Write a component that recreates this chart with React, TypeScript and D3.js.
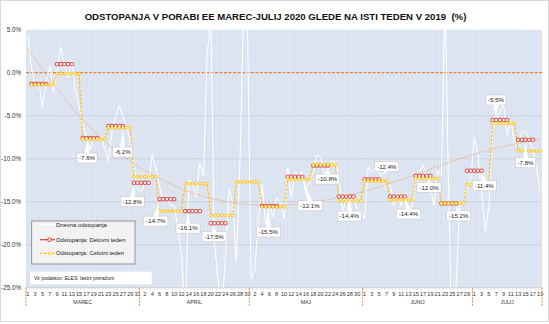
import React from 'react';
import * as d3 from 'd3';

// ---------- DATA ----------
const months = ['MAREC', 'APRIL', 'MAJ', 'JUNIJ', 'JULIJ'];
const monthDays = [31, 30, 31, 30, 19];
const yTicks = [5, 0, -5, -10, -15, -20, -25];

// daily deviation (%), 1 March – 19 July 2020
const daily = [
  4.4,
  0.5, -1.5, -1.0, -4.0, -1.2, 0.8, -2.3,
  0.2, 3.0, 0.9, -0.6, 1.5, -2.0, -3.8,
  -6.2, -7.3, -9.0, -7.6, -7.9, -7.4, -8.8,
  -10.3, -6.8, -5.0, -3.8, -5.1, -6.4, -7.8,
  -11.0, -13.5, -13.8, -12.9, -12.8, -9.5, -11.2,
  -13.2, -15.0, -14.4, -15.4, -15.5, -18.0, -21.3,
  -30.0, -12.5, -13.0, -14.5, -10.5, -12.0, 2.2,
  6.0, -20.0, -24.0, -28.0, -21.5, -13.5, -15.2,
  -22.0, -10.0, 8.0, 6.0, -24.0, -23.0, -17.0,
  -13.0, -17.6, -15.5, -16.8, -14.6, -15.0, -17.0,
  -11.0, -14.5, -11.5, -12.0, -11.5, -13.5, -12.8,
  -11.5, -9.6, -9.8, -11.8, -11.3, -10.2, -10.4,
  -12.0, -16.5, -14.0, -15.5, -14.0, -16.0, -16.3,
  -17.0, -11.0, -11.5, -11.0, -11.5, -12.8, -13.4,
  -13.0, -15.5, -14.0, -15.5, -14.0, -16.0, -15.6,
  -12.5, -11.5, -10.7, -12.0, -13.3, -15.4, -11.4,
  -12.0, 9.0, -14.0, -34.0, -25.0, -15.5, -14.9,
  -13.5, -12.5, -7.5, -9.5, -14.0, -18.5, -15.5,
  -6.5, -5.5, -4.5, -3.7, -7.3, -5.5, -8.3,
  -8.5, -7.0, -6.8, -7.7, -9.0, -11.0, -13.7,
];

// weekly deviation, working week (Mon–Fri)
const weekWork = [-1.3, 1.0, -7.6, -6.2, -12.8, -14.7, -16.1, -17.5, null, -15.5,
  -12.1, -10.8, -14.4, -12.4, -14.4, -12.0, -15.2, -11.4, -5.5, -7.8];
// weekly deviation, full week (Mon–Sun)
const weekFull = [-1.4, -0.1, -7.75, -6.4, -12.1, -16.1, -12.9, -16.6, -12.7, -15.6,
  -12.4, -10.7, -14.9, -12.6, -14.8, -12.3, -15.2, -13.0, -5.9, -9.1];
const showLabel = [false, false, true, true, true, true, true, true, false, true,
  true, true, true, true, true, true, true, true, true, true];

// trend line read every 7 days
const trendStep = 7;
const trend = [2.8, -1.3, -5.0, -8.0, -10.3, -12.1, -13.5, -14.5, -15.1, -15.4, -15.4,
  -15.1, -14.6, -13.9, -13.0, -12.0, -10.9, -9.9, -9.0, -8.3, -7.7];

// ---------- LAYOUT ----------
const W = 549, H = 324;
const P = { l: 26, r: 542, t: 29.7, b: 287.7 };
const firstMonday = 1;
// label offsets (px) relative to mid-week point
const labelOffsets: ([number, number] | null)[] = [null, null, [-3, 20], [7, 26], [-9, 19], [-11, 22],
  [-4.5, 17], [-4, 13.5], null, [-1, 26], [15, 29], [7, 13.5], [3, 19.5], [15, -13], [11, 17.5],
  [6, 11.5], [10, 12.5], [10, 15], [-4, -20], [0, 23]];

const FONT = 'Liberation Sans, Arial, sans-serif';
const RED = '#d63c36';
const YEL = '#ffc000';
const ORANGE = '#e8823f';

export default function App() {
  const N = daily.length;
  const x = d3.scaleLinear().domain([0, N]).range([P.l, P.r]);
  const cx = (t: number) => x(t + 0.5);
  const y = d3.scaleLinear().domain([-25, 5]).range([P.b, P.t]);

  const dailyPath = d3.line<number>().x((_, i) => cx(i)).y(d => y(d))(daily) || '';

  const fullPts: [number, number][] = [];
  weekFull.forEach((v, w) => {
    for (let k = 0; k < 7; k++) fullPts.push([firstMonday + 7 * w + k, v]);
  });
  const fullPath = d3.line<[number, number]>().x(d => cx(d[0])).y(d => y(d[1]))(fullPts) || '';

  const workSegs: [number, number][][] = [];
  weekWork.forEach((v, w) => {
    if (v === null) return;
    const seg: [number, number][] = [];
    for (let k = 0; k < 5; k++) seg.push([firstMonday + 7 * w + k, v]);
    workSegs.push(seg);
  });
  const segLine = d3.line<[number, number]>().x(d => cx(d[0])).y(d => y(d[1]));

  const trendPts: [number, number][] = trend.map((v, i) => [i * trendStep, v]);
  const trendPath = d3.line<[number, number]>().x(d => cx(d[0])).y(d => y(d[1]))
    .curve(d3.curveCatmullRom.alpha(0.5))(trendPts) || '';

  const monthStart: number[] = [];
  let acc = 0;
  monthDays.forEach(d => { monthStart.push(acc); acc += d; });

  const dayLabels: { t: number; label: string }[] = [];
  monthDays.forEach((d, m) => {
    for (let k = 0; k < d; k++) {
      const t = monthStart[m] + k;
      if (t % 2 === 0) dayLabels.push({ t, label: String(k + 1) });
    }
  });

  const fmt = (v: number) => v.toFixed(1) + '%';

  return (
    <svg width={W} height={H} style={{ position: 'absolute', left: 0, top: 0, background: '#fff' }}
      fontFamily={FONT}>
      <defs>
        <clipPath id="plotclip">
          <rect x={P.l} y={P.t} width={P.r - P.l} height={P.b - P.t} />
        </clipPath>
      </defs>
      <rect x={0.5} y={0.5} width={W - 1} height={321} fill="#fff" stroke="#d9d9d9" />
      <text x={275.5} y={20} textAnchor="middle" fontSize={9.6} fontWeight="bold" fill="#111"
        style={{ whiteSpace: 'pre' }}>
        {'ODSTOPANJA V PORABI EE MAREC-JULIJ 2020 GLEDE NA ISTI TEDEN V 2019\u00a0 (%)'}
      </text>

      <rect x={P.l} y={P.t} width={P.r - P.l} height={P.b - P.t} fill="#dbe3f0" />
      {d3.range(1, N).map(t => (
        <line key={'vg' + t} x1={x(t)} x2={x(t)} y1={P.t} y2={P.b} stroke="#eef2f9"
          strokeWidth={0.7} strokeDasharray="1,1" />
      ))}
      {yTicks.filter(v => v !== 0 && v !== -25 && v !== 5).map(v => (
        <line key={'hg' + v} x1={P.l} x2={P.r} y1={y(v)} y2={y(v)} stroke="#c3cad6" strokeWidth={0.7} />
      ))}
      <line x1={P.l} x2={P.r} y1={y(0)} y2={y(0)} stroke={ORANGE} strokeWidth={1.3} strokeDasharray="3,1.5" />

      {yTicks.map(v => (
        <text key={'yl' + v} x={21} y={y(v) + 2.2} textAnchor="end" fontSize={6.3} fill="#333">
          {v.toFixed(1) + '%'}
        </text>
      ))}

      <line x1={P.l} x2={P.r} y1={P.b} y2={P.b} stroke="#bfbfbf" strokeWidth={0.6} />
      {d3.range(0, N + 1).map(t => (
        <line key={'xt' + t} x1={x(t)} x2={x(t)} y1={P.b} y2={P.b + 2} stroke="#bfbfbf" strokeWidth={0.5} />
      ))}
      {dayLabels.map(d => (
        <text key={'dl' + d.t} x={cx(d.t)} y={P.b + 8} textAnchor="middle" fontSize={5.6} fill="#333">
          {d.label}
        </text>
      ))}
      {months.map((m, i) => (
        <text key={'ml' + m} x={x(monthStart[i] + monthDays[i] / 2)} y={P.b + 16}
          textAnchor="middle" fontSize={5.2} fill="#333">{m}</text>
      ))}
      {[...monthStart, N].map((t, i) => (
        <line key={'ms' + i} x1={x(t)} x2={x(t)} y1={P.b} y2={P.b + 19} stroke={ORANGE}
          strokeWidth={1} strokeDasharray="2,1.2" />
      ))}

      <g clipPath="url(#plotclip)">
        <path d={dailyPath} fill="none" stroke="#ffffff" strokeWidth={1} />
        <path d={trendPath} fill="none" stroke="#f0a272" strokeWidth={1} strokeDasharray="1.2,1.2" />
        {workSegs.map((s, i) => (
          <path key={'ws' + i} d={segLine(s) || ''} fill="none" stroke={RED} strokeWidth={1.2} />
        ))}
        <path d={fullPath} fill="none" stroke={YEL} strokeWidth={1.2} strokeDasharray="2.5,1.5" />
        {workSegs.flat().map((p, i) => (
          <rect key={'wm' + i} x={cx(p[0]) - 1.6} y={y(p[1]) - 1.6} width={3.2} height={3.2}
            rx={0.4} fill="#fff" stroke={RED} strokeWidth={0.9} />
        ))}
        {fullPts.map((p, i) => (
          <circle key={'fm' + i} cx={cx(p[0])} cy={y(p[1])} r={1.4} fill="#fff5d6" stroke={YEL}
            strokeWidth={0.8} />
        ))}
      </g>

      {weekWork.map((v, w) => {
        if (v === null || !showLabel[w]) return null;
        const off = labelOffsets[w];
        if (!off) return null;
        const mid = firstMonday + 7 * w + 2;
        const px = cx(mid), py = y(v);
        const lx = px + off[0], ly = py + off[1];
        const txt = fmt(v);
        const bw = txt.length * 4, bh = 10;
        const tFirst = cx(firstMonday + 7 * w), tLast = cx(firstMonday + 7 * w + 4);
        const tipX = Math.max(tFirst, Math.min(tLast, lx));
        const below = off[1] > 0;
        const tipY = below ? py + 2.5 : py - 2.5;
        const baseY = below ? ly - bh / 2 + 0.5 : ly + bh / 2 - 0.5;
        return (
          <g key={'lab' + w}>
            <rect x={lx - bw / 2} y={ly - bh / 2} width={bw} height={bh} fill="#fff" stroke="#bfbfbf" strokeWidth={0.5} />
            <polygon points={`${lx - 2.5},${baseY} ${lx + 2.5},${baseY} ${tipX},${tipY}`} fill="#fff" />
            <text x={lx} y={ly + 2.2} textAnchor="middle" fontSize={6.1} fill="#222">{txt}</text>
          </g>
        );
      })}

      <rect x={31.7} y={221} width={103.3} height={43} fill="#f2f2f2" stroke="#7f7f7f" strokeWidth={0.8} />
      <line x1={41} x2={55} y1={224.5} y2={224.5} stroke="#fff" strokeWidth={1.2} />
      <text x={56} y={226.6} fontSize={5.9} fill="#222">Dnevna odstopanja</text>
      <line x1={40} x2={55} y1={239.7} y2={239.7} stroke={RED} strokeWidth={1.2} />
      <rect x={48} y={238.1} width={3.2} height={3.2} rx={0.4} fill="#fff" stroke={RED} strokeWidth={0.9} />
      <text x={56} y={241.8} fontSize={5.9} fill="#222">Odstopanja: Delovni teden</text>
      <line x1={40} x2={55} y1={253.3} y2={253.3} stroke={YEL} strokeWidth={1.2} strokeDasharray="2.5,1.5" />
      <circle cx={49.5} cy={253.3} r={1.4} fill="#fff5d6" stroke={YEL} strokeWidth={0.8} />
      <text x={56} y={255.4} fontSize={5.9} fill="#222">Odstopanja: Celotni teden</text>

      <rect x={30} y={271.7} width={121.7} height={12.6} fill="#fff" />
      <text x={34} y={279.5} fontSize={5} fill="#222">Vir podatkov: ELES; lastni preračuni</text>
    </svg>
  );
}
